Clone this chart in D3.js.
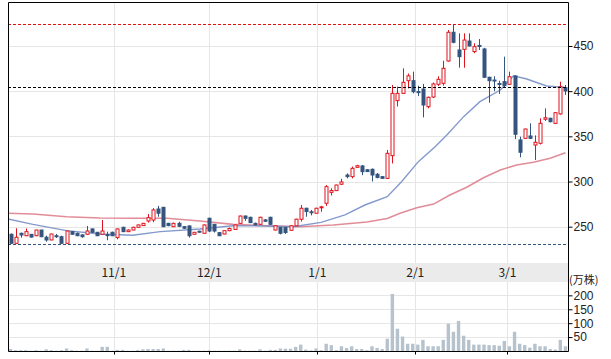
<!DOCTYPE html>
<html lang="ja">
<head>
<meta charset="utf-8">
<title>Candlestick</title>
<style>
  body { margin: 0; background: #fff; }
  svg { display: block; font-family: "Noto Sans CJK JP", "Noto Sans", sans-serif; }
</style>
</head>
<body>
<svg id="chart" width="611" height="359"></svg>
<script src="https://cdn.jsdelivr.net/npm/d3@7/dist/d3.min.js"></script>
<script>
// daily candles, oldest first
const opens  = [241.6,231.6,242.7,240.0,241.5,240.0,246.3,238.3,235.3,240.0,238.9,231.6,244.5,242.7,240.9,241.6,247.5,243.8,241.6,241.2,
                243.8,237.9,249.3,244.5,246.3,249.3,251.2,256.3,257.4,269.6,271.4,253.7,250.0,253.7,250.0,250.8,241.6,245.0,242.7,259.3,
                252.6,243.4,241.9,245.6,247.0,253.7,261.8,260.4,253.7,252.6,257.5,260.4,246.3,249.0,249.0,246.0,251.0,258.2,270.4,266.5,
                264.9,271.0,275.9,288.0,289.9,297.0,307.2,305.4,315.7,317.2,313.0,313.5,308.0,305.4,303.5,328.6,389.5,397.6,411.6,411.6,
                399.5,402.4,382.8,393.5,407.6,408.7,433.4,465.2,445.6,446.3,455.5,443.8,450.6,446.7,415.4,412.3,408.5,410.5,407.6,416.8,
                346.0,347.8,350.4,340.4,342.3,368.9,370.0,364.4,374.8,403.9];
const highs  = [242.5,248.2,243.4,248.0,242.0,246.5,246.5,240.0,242.2,242.0,240.0,245.8,245.0,243.5,241.5,250.8,248.0,244.0,257.4,244.5,
                244.5,248.0,250.0,247.0,250.0,252.5,254.2,264.0,270.5,273.0,272.0,254.2,254.5,255.5,250.5,251.5,244.0,245.5,252.5,260.0,
                253.0,244.0,246.0,249.0,252.5,262.2,262.3,261.0,254.5,261.0,258.5,261.0,251.5,249.5,249.5,251.5,258.8,274.0,271.0,268.5,
                271.0,273.0,296.0,292.5,296.5,303.0,309.0,316.5,318.5,318.3,313.5,314.5,309.5,306.0,334.9,406.8,405.0,425.3,419.5,421.6,
                406.0,408.0,394.0,409.5,416.5,433.7,467.7,474.0,464.0,464.0,464.0,453.0,457.7,448.0,416.0,416.5,411.5,438.2,421.6,417.5,
                349.6,358.5,364.4,351.0,370.0,381.0,370.6,376.6,410.5,406.8];
const lows   = [231.0,231.0,237.8,239.5,238.0,239.5,238.5,233.4,235.0,237.5,231.2,231.2,241.0,239.5,237.8,241.0,243.5,239.5,241.0,235.0,
                239.5,236.0,244.0,244.0,246.0,249.0,251.0,254.5,255.0,261.0,249.5,250.5,249.5,249.5,247.5,238.0,241.2,243.5,242.3,244.0,
                243.5,239.5,241.5,245.0,246.5,253.3,256.5,254.0,251.5,252.2,255.5,252.0,245.8,241.5,242.0,245.5,250.5,255.6,261.0,262.5,
                264.5,266.5,273.0,284.5,289.5,296.0,303.5,303.5,315.3,307.0,310.5,300.0,303.5,303.0,302.8,320.0,383.0,397.0,403.0,397.6,
                394.5,371.0,381.0,392.5,405.8,406.2,432.6,453.0,426.0,426.0,449.5,442.0,445.6,414.5,387.2,400.0,396.9,403.9,407.0,347.0,
                326.8,347.2,347.2,323.8,341.0,367.0,365.5,363.8,374.0,395.8];
const closes = [231.6,238.3,240.8,244.5,238.5,246.3,238.9,235.3,241.9,239.0,231.6,245.2,241.6,240.0,238.9,245.2,243.8,240.0,245.2,240.5,
                240.0,247.5,244.5,246.3,249.3,251.9,253.7,260.0,268.5,264.9,250.0,251.2,253.7,250.5,248.3,240.0,243.8,244.0,251.9,245.2,
                245.2,240.0,245.6,248.0,251.9,261.8,259.3,254.5,252.0,260.4,256.0,252.6,251.0,242.7,243.5,251.0,258.3,270.4,266.7,265.8,
                270.4,272.0,294.3,290.0,296.1,299.5,305.4,314.6,317.5,310.9,311.0,307.2,304.5,303.5,331.2,397.6,397.6,409.8,417.0,399.4,
                398.5,384.7,393.2,408.0,413.1,425.3,465.2,454.1,438.2,456.6,450.0,449.3,450.0,415.4,411.6,411.7,408.0,406.1,416.0,352.3,
                332.4,358.1,347.8,343.4,364.4,370.6,366.2,376.2,405.0,400.2];
// volume, 万株
const volumes = [7,3,3,3,1,3,1,6,3,1,3,9,3,1,1,9,1,1,15,15,
                 1,4,4,1,1,3,6,7,7,7,9,1,1,1,4,4,1,1,1,2,
                 1,1,1,1,1,6,1,1,1,6,1,4,4,9,8,8,15,23,5,2,
                 9,3,26,21,3,17,11,17,7,7,3,17,11,7,44,205,80,52,26,26,
                 23,40,17,17,17,40,98,69,108,55,40,23,23,23,21,21,19,36,17,69,
                 26,21,12,26,17,17,7,5,40,17];

// moving averages, sampled along the candle index
const maShortIdx = [-0.5,4.4,11,17.6,24,29.4,37.2,43.7,50.3,55.5,61,65.7,69.6,74,76.8,80.1,83.4,85.7,89,92.2,96.2,98.8,101.4,105.3,109];
const maShortVal = [258.5,252.6,245.6,241.9,240.5,244.5,247.5,251,250.8,250,254.8,263,274,283.2,299.8,322,338.5,351.5,371.8,388.4,401.3,417,413.5,405.7,404];
const maLongIdx  = [-0.5,4.4,11,17.6,24,30.7,37.2,43.7,50.3,56.9,63.4,70,74,76.5,79.8,83.1,86.3,89.6,92.9,96.2,99.4,102.7,106,109];
const maLongVal  = [264.8,264,261,259.6,259.3,259.3,256.3,252.6,251,250,251.9,255.2,259,264.8,271,275,285,293.6,304.2,312.8,318.3,321.3,325.7,331.9];

const monthLabels = ["11/1","12/1","1/1","2/1","3/1"];
const monthIdx    = [20.27,39.05,60.27,79.5,97.6];
const priceTicks  = [250,300,350,400,450];
const volumeTicks = [50,100,150,200];
const refPrice    = 405;

const svg = d3.select("#chart");
const pLeft = 8, pRight = 568, pTop = 2, priceBottom = 263, bandBottom = 282, pBottom = 351;
const n = closes.length;

const x = d3.scaleLinear().domain([-0.5, n - 0.5]).range([pLeft, pRight]);
const y = d3.scaleLinear().domain([209.8, 498.7]).range([priceBottom, pTop]);
const yv = d3.scaleLinear().domain([0, 248]).range([pBottom, bandBottom]);

const upColor = "#e0141e", downColor = "#34557f";

svg.append("defs").append("clipPath").attr("id", "pclip")
  .append("rect").attr("x", pLeft).attr("y", pTop).attr("width", pRight - pLeft).attr("height", priceBottom - pTop);

// grid
const grid = svg.append("g").attr("stroke", "#e6e6e6").attr("stroke-width", 1);
grid.selectAll(".hp").data(priceTicks).enter().append("line")
  .attr("x1", pLeft).attr("x2", pRight)
  .attr("y1", d => Math.round(y(d)) + 0.5).attr("y2", d => Math.round(y(d)) + 0.5);
grid.selectAll(".hv").data(volumeTicks).enter().append("line")
  .attr("x1", pLeft).attr("x2", pRight)
  .attr("y1", d => Math.round(yv(d)) + 0.5).attr("y2", d => Math.round(yv(d)) + 0.5);
grid.selectAll(".vm").data(monthIdx).enter().append("line")
  .attr("x1", d => Math.round(x(d)) + 0.5).attr("x2", d => Math.round(x(d)) + 0.5)
  .attr("y1", pTop).attr("y2", pBottom);

// date band
svg.append("rect").attr("x", pLeft).attr("y", priceBottom).attr("width", pRight - pLeft)
  .attr("height", bandBottom - priceBottom).attr("fill", "#ebebeb");
svg.append("g").selectAll("text").data(monthLabels).enter().append("text")
  .attr("x", (d, i) => x(monthIdx[i]))
  .attr("y", (priceBottom + bandBottom) / 2 + 4)
  .attr("text-anchor", "middle")
  .attr("font-size", 12).attr("fill", "#222")
  .text(d => d);

// volume bars
svg.append("g").selectAll("rect").data(volumes).enter().append("rect")
  .attr("x", (d, i) => x(i) - 1.7)
  .attr("width", 3.4)
  .attr("y", d => yv(d))
  .attr("height", d => pBottom - yv(d))
  .attr("fill", "#b6c2cc");

// moving averages
const plot = svg.append("g").attr("clip-path", "url(#pclip)");
const line = d3.line().x(d => x(d[0])).y(d => y(d[1]));
plot.append("path").datum(d3.zip(maLongIdx, maLongVal))
  .attr("d", line).attr("fill", "none").attr("stroke", "#d9707e").attr("stroke-opacity", 0.8).attr("stroke-width", 1.6);
plot.append("path").datum(d3.zip(maShortIdx, maShortVal))
  .attr("d", line).attr("fill", "none").attr("stroke", "#6f88c4").attr("stroke-opacity", 0.85).attr("stroke-width", 1.4);

// reference lines
const hi = d3.max(highs), lo = d3.min(lows);
const refs = [[hi, "#e01010"], [refPrice, "#000"], [lo, downColor]];
svg.append("g").selectAll("line").data(refs).enter().append("line")
  .attr("x1", pLeft).attr("x2", pRight)
  .attr("y1", d => Math.round(y(d[0])) + 0.5).attr("y2", d => Math.round(y(d[0])) + 0.5)
  .attr("stroke", d => d[1]).attr("stroke-width", 1).attr("stroke-dasharray", "3,2");

// candles
const candles = plot.selectAll(".candle").data(d3.range(n)).enter().append("g");
candles.append("line")
  .attr("x1", i => Math.round(x(i)) + 0.5).attr("x2", i => Math.round(x(i)) + 0.5)
  .attr("y1", i => y(highs[i])).attr("y2", i => y(lows[i]))
  .attr("stroke", i => closes[i] >= opens[i] ? upColor : downColor);
candles.append("rect")
  .attr("x", i => Math.round(x(i)) - 1)
  .attr("width", 3)
  .attr("y", i => y(Math.max(opens[i], closes[i])))
  .attr("height", i => Math.max(1, Math.abs(y(opens[i]) - y(closes[i]))))
  .attr("fill", i => closes[i] >= opens[i] ? "#fff" : downColor)
  .attr("stroke", i => closes[i] >= opens[i] ? upColor : downColor)
  .attr("stroke-width", 1);

// frame
const frame = svg.append("g").attr("stroke", "#000").attr("stroke-width", 1).attr("fill", "none");
frame.append("path").attr("d", `M${pLeft + 0.5},${pBottom + 0.5}V${pTop + 0.5}H${pRight + 0.5}V${pBottom + 0.5}H${pLeft + 0.5}`);

// axes
const ya = svg.append("g").attr("transform", `translate(${pRight + 0.5},0)`)
  .call(d3.axisRight(y).tickValues(priceTicks).tickSize(4).tickPadding(1).tickFormat(d3.format("d")));
const va = svg.append("g").attr("transform", `translate(${pRight + 0.5},0)`)
  .call(d3.axisRight(yv).tickValues(volumeTicks).tickSize(4).tickPadding(1).tickFormat(d3.format("d")));
[ya, va].forEach(a => {
  a.select(".domain").remove();
  a.selectAll("text").attr("font-size", 12).attr("fill", "#222").attr("font-family", null);
});
svg.append("text").attr("x", pRight + 1).attr("y", bandBottom + 2)
  .attr("font-size", 11).attr("fill", "#222").text("(万株)");

const xa = svg.append("g").attr("transform", `translate(0,${pBottom + 0.5})`);
xa.selectAll("line").data(monthIdx).enter().append("line")
  .attr("x1", d => Math.round(x(d)) + 0.5).attr("x2", d => Math.round(x(d)) + 0.5)
  .attr("y1", 0).attr("y2", 3).attr("stroke", "#000");
</script>
</body>
</html>
